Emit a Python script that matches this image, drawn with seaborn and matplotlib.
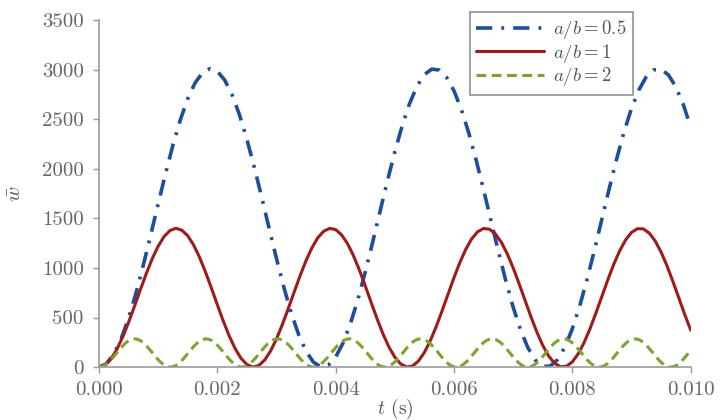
import numpy as np
import pandas as pd
import matplotlib
matplotlib.use("Agg")
import matplotlib.pyplot as plt
import seaborn as sns

# ---- data ----
t_half = np.round(np.arange(0, 81) * 0.000125, 7)   # a/b = 0.5 samples
w_half = [0, 32, 128, 283, 491, 742, 1026, 1330, 1642, 1949, 2236, 2491,
          2705, 2866, 2970, 3010, 2985, 2897, 2748, 2547, 2300, 2020, 1717,
          1405, 1097, 807, 547, 329, 160, 50, 2, 19, 100, 241, 437, 678, 955,
          1256, 1568, 1876, 2170, 2434, 2658, 2833, 2950, 3006, 2997, 2924,
          2789, 2600, 2363, 2089, 1791, 1480, 1170, 874, 606, 376, 195, 71,
          7, 9, 75, 202, 385, 616, 886, 1183, 1493, 1803, 2101, 2374, 2609,
          2796, 2928, 2998, 3005, 2947, 2827, 2650, 2423]

t_one = np.round(np.arange(0, 101) * 0.0001, 7)     # a/b = 1 samples
w_one = [0, 20, 79, 174, 300, 448, 611, 779, 942, 1091, 1218, 1315, 1377,
         1400, 1382, 1326, 1233, 1109, 962, 800, 632, 468, 318, 189, 90, 26,
         0, 15, 70, 160, 282, 428, 589, 757, 921, 1073, 1203, 1305, 1371,
         1399, 1387, 1335, 1247, 1127, 982, 822, 654, 489, 336, 204, 101, 32,
         1, 11, 61, 147, 265, 408, 568, 735, 901, 1055, 1188, 1294, 1365,
         1398, 1391, 1344, 1260, 1144, 1002, 843, 676, 510, 355, 220, 112,
         39, 3, 8, 52, 134, 248, 388, 546, 713, 880, 1036, 1172, 1282, 1358,
         1396, 1394, 1352, 1273, 1161, 1022, 864, 698, 531, 374]

t_two = np.round(np.arange(0, 201) * 0.00005, 7)    # a/b = 2 samples
w_two = [0, 5, 19, 41, 70, 104, 141, 178, 212, 242, 265, 279, 285, 281, 268,
         246, 217, 183, 147, 110, 76, 46, 22, 6, 0, 3, 16, 37, 65, 99, 135,
         172, 207, 237, 262, 278, 285, 282, 270, 250, 222, 189, 153, 116, 81,
         50, 25, 8, 1, 2, 13, 33, 60, 93, 129, 166, 202, 233, 258, 276, 284,
         283, 273, 254, 227, 195, 159, 122, 86, 55, 29, 10, 1, 1, 11, 30, 56,
         88, 123, 160, 196, 228, 255, 273, 284, 284, 275, 257, 232, 200, 165,
         128, 92, 59, 32, 13, 2, 1, 9, 26, 51, 82, 117, 154, 190, 223, 251,
         271, 283, 285, 277, 261, 236, 206, 171, 134, 97, 64, 36, 15, 3, 0,
         7, 23, 47, 77, 112, 148, 185, 218, 247, 268, 281, 285, 279, 264, 241,
         211, 176, 140, 103, 69, 40, 18, 4, 0, 5, 20, 42, 72, 106, 143, 179,
         213, 243, 265, 280, 285, 281, 267, 245, 216, 182, 146, 109, 74, 44,
         21, 6, 0, 4, 17, 38, 67, 100, 137, 173, 208, 238, 262, 278, 285, 282,
         270, 249, 221, 188, 152, 115, 80, 49, 24, 8, 0, 3, 14, 34, 62, 95,
         131, 168]

labels = [r"$a/b=0.5$", r"$a/b=1$", r"$a/b=2$"]
x_ticks = [0.000, 0.002, 0.004, 0.006, 0.008, 0.010]
y_ticks = [0, 500, 1000, 1500, 2000, 2500, 3000, 3500]

df = pd.concat([
    pd.DataFrame({"t": t_half, "w": w_half, "case": labels[0]}),
    pd.DataFrame({"t": t_one, "w": w_one, "case": labels[1]}),
    pd.DataFrame({"t": t_two, "w": w_two, "case": labels[2]}),
])

sns.set_style("ticks")
plt.rcParams["font.family"] = ["cmr10", "DejaVu Serif"]
plt.rcParams["mathtext.fontset"] = "cm"
plt.rcParams["axes.formatter.use_mathtext"] = True

fig = plt.figure(figsize=(7.27, 4.2), dpi=100)
ax = fig.add_axes([0.136, 0.126, 0.814, 0.826])

colors = {labels[0]: "#1b4f9e", labels[1]: "#a01a1a", labels[2]: "#7da52c"}
styles = {labels[0]: (0, (4.5, 2.5, 0.8, 2.5)),
          labels[1]: "-",
          labels[2]: (0, (3.2, 1.8))}
widths = {labels[0]: 2.6, labels[1]: 2.2, labels[2]: 2.2}

for lab in labels:
    sub = df[df["case"] == lab]
    sns.lineplot(data=sub, x="t", y="w", ax=ax, color=colors[lab],
                 linestyle=styles[lab], linewidth=widths[lab], label=lab,
                 estimator=None, sort=False)

ax.set_xlim(0, 0.010)
ax.set_ylim(0, 3500)
ax.set_xticks(x_ticks)
ax.set_xticklabels([f"{v:.3f}" for v in x_ticks])
ax.set_yticks(y_ticks)
ax.set_yticklabels([str(v) for v in y_ticks])
ax.tick_params(labelsize=15, colors="#9a9a9a", labelcolor="#666666",
               length=4, width=1.0, direction="out")
ax.tick_params(axis="x", pad=6)
ax.tick_params(axis="y", pad=7)
for s in ["top", "right"]:
    ax.spines[s].set_visible(False)
for s in ["left", "bottom"]:
    ax.spines[s].set_color("#9a9a9a")
    ax.spines[s].set_linewidth(1.2)

ax.set_xlabel(r"$t$ (s)", fontsize=14, color="#555555")
ax.set_ylabel(r"$\bar{w}$", fontsize=15, color="#555555")
ax.xaxis.set_label_coords(0.5, -0.086)
ax.yaxis.set_label_coords(-0.125, 0.5)

leg = ax.legend(loc="upper right", bbox_to_anchor=(0.903, 1.024),
                fontsize=13.5, frameon=True, fancybox=False, handlelength=3.6,
                borderpad=0.35, labelspacing=0.02, handletextpad=0.5,
                borderaxespad=0.0)
leg.get_frame().set_edgecolor("#777777")
leg.get_frame().set_linewidth(1.2)
for txt in leg.get_texts():
    txt.set_color("#555555")

fig.savefig("out.png", dpi=100)
